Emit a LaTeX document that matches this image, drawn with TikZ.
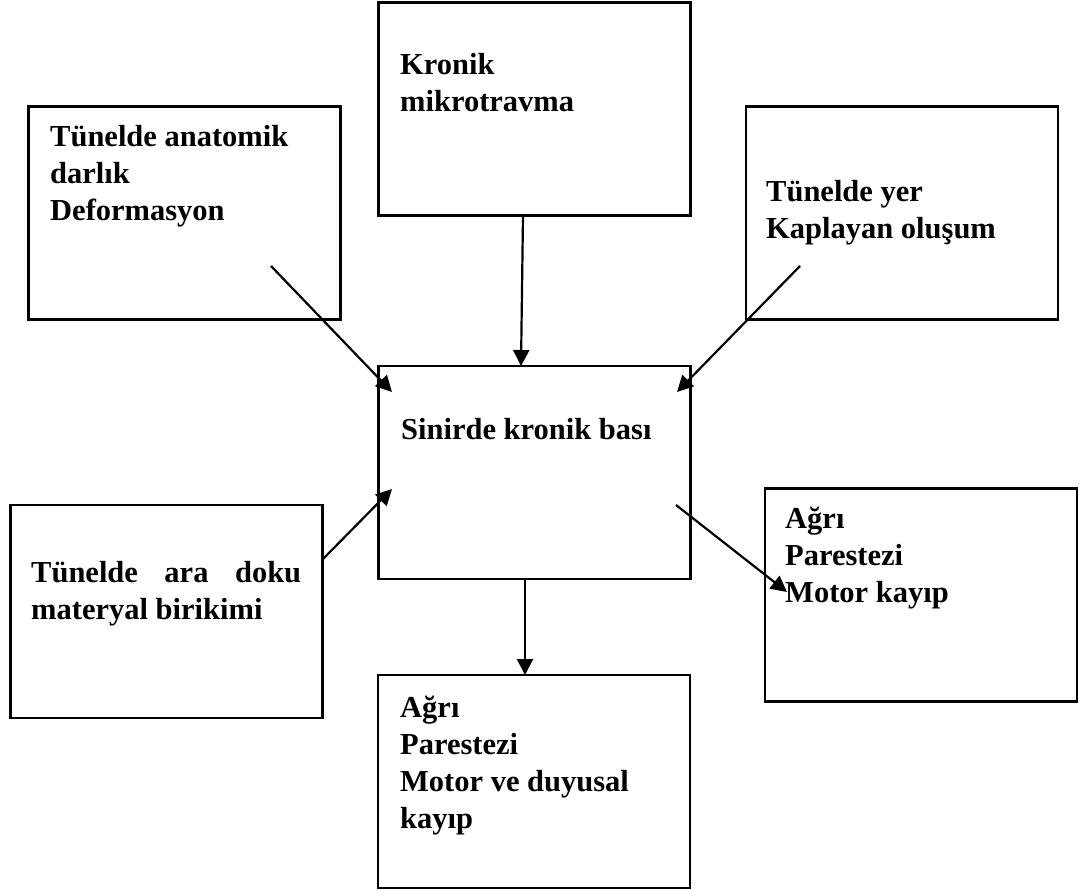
\documentclass[tikz,border=0pt]{standalone}
\usepackage{fontspec}
\setmainfont{Liberation Serif}
\usetikzlibrary{arrows.meta}
\begin{document}
\begin{tikzpicture}[x=1pt,y=-1pt,
  box/.style={draw,line width=2.2pt,rectangle,inner sep=0pt,minimum width=312pt,minimum height=213pt},
  txt/.style={anchor=base west,inner sep=0pt,font=\fontsize{30.5}{37}\selectfont\bfseries},
  conn/.style={line width=2.2pt,-{Triangle[length=16pt,width=16pt]}}]
\useasboundingbox (0,0) rectangle (1081,890);
% boxes
\node[box] (A) at (534.5,109) {};
\node[box] (B) at (184.5,213) {};
\node[box] (C) at (902,213) {};
\node[box] (D) at (534.5,472.5) {};
\node[box] (E) at (166.5,611.5) {};
\node[box] (F) at (921,595) {};
\node[box] (G) at (534,781.5) {};
% texts
\node[txt] (tA) at (400,75) {\parbox[t]{290pt}{Kronik\\mikrotravma}};
\node[txt] (tB) at (50,147) {\parbox[t]{290pt}{Tünelde anatomik\\darlık\\Deformasyon}};
\node[txt] (tC) at (766,202) {\parbox[t]{290pt}{Tünelde yer\\Kaplayan oluşum}};
\node[txt] (tD) at (401,439) {\parbox[t]{290pt}{Sinirde kronik bası}};
\node[txt] (tE) at (31,582) {\parbox[t]{290pt}{\leavevmode\hbox to 270pt{Tünelde\hfill ara\hfill doku}\\materyal birikimi}};
\node[txt] (tF) at (785,528) {\parbox[t]{290pt}{Ağrı\\Parestezi\\Motor kayıp}};
\node[txt] (tG) at (400,717) {\parbox[t]{290pt}{Ağrı\\Parestezi\\Motor ve duyusal\\kayıp}};
% connector ends
\coordinate (a1) at (523,215);  \coordinate (d1) at (521,366);
\coordinate (b1) at (271,266);  \coordinate (d2) at (392,392);
\coordinate (c1) at (800,266);  \coordinate (d3) at (677,392);
\coordinate (e1) at (323,559);  \coordinate (d4) at (392,489);
\coordinate (d5) at (676,505);  \coordinate (f1) at (787,592);
\coordinate (d6) at (525,579);  \coordinate (g1) at (525,675);
\draw[conn] (a1) -- (d1);
\draw[conn] (b1) -- (d2);
\draw[conn] (c1) -- (d3);
\draw[conn] (e1) -- (d4);
\draw[conn] (d5) -- (f1);
\draw[conn] (d6) -- (g1);
\end{tikzpicture}
\end{document}
